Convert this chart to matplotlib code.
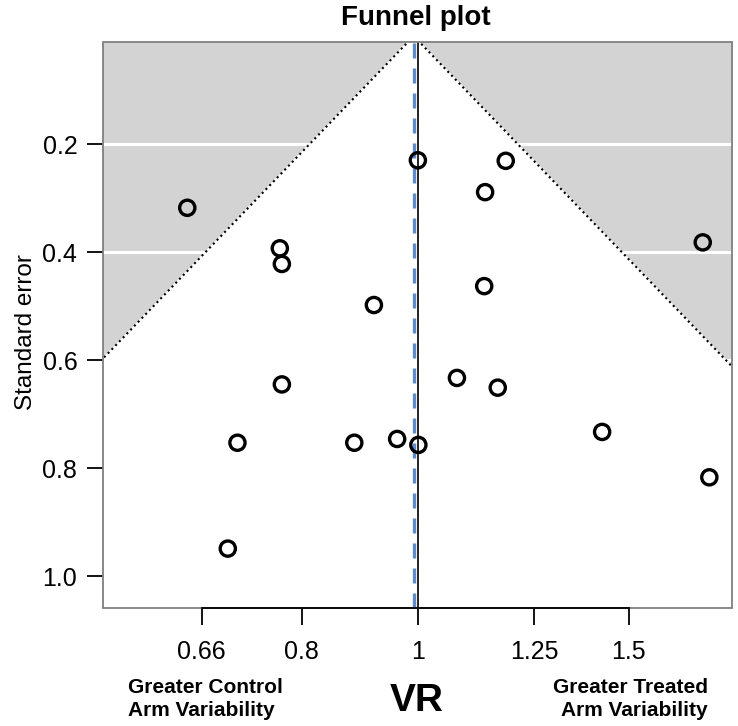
import numpy as np
import matplotlib
matplotlib.use("Agg")
import matplotlib.pyplot as plt
from matplotlib.patches import Rectangle
from matplotlib.ticker import FixedLocator, FixedFormatter, NullLocator

plt.rcParams['font.family'] = ['Liberation Sans', 'DejaVu Sans']

# study variance ratios (VR) and their standard errors
vr = [0.642, 0.767, 0.770, 0.919, 1.000, 1.184, 1.138, 1.136, 1.729,
      0.770, 1.078, 1.166, 0.885, 0.961, 1.001, 0.707, 0.694, 1.425, 1.751]
se = [0.318, 0.393, 0.422, 0.498, 0.230, 0.231, 0.289, 0.463, 0.382,
      0.645, 0.633, 0.651, 0.753, 0.746, 0.757, 0.753, 0.949, 0.733, 0.817]

pooled_vr = 0.992
x_ticks = [0.66, 0.8, 1, 1.25, 1.5]
x_labels = ["0.66", "0.8", "1", "1.25", "1.5"]
y_ticks = [0.2, 0.4, 0.6, 0.8, 1.0]
y_labels = ["0.2", "0.4", "0.6", "0.8", "1.0"]

fig = plt.figure(figsize=(7.38, 7.26), dpi=100)
ax = fig.add_axes([103 / 738, 1 - 608 / 726, (732 - 103) / 738, (608 - 42) / 726])

ax.set_xscale('log')
ax.set_xlim(0.546, 1.829)
ax.set_ylim(1.059, 0.011)

# grey background, white grid lines, white funnel region
ax.set_facecolor('lightgray')
for t in y_ticks:
    ax.axhline(t, color='white', lw=2.2, zorder=1)

se_line = np.array([0.0, 1.2])
centre = np.log(pooled_vr)
lo = np.exp(centre - se_line)
hi = np.exp(centre + se_line)
ax.fill_betweenx(se_line, lo, hi, color='white', zorder=2)
ax.plot(lo, se_line, color='black', ls=(0, (1.0, 1.6)), lw=1.5, zorder=3)
ax.plot(hi, se_line, color='black', ls=(0, (1.0, 1.6)), lw=1.5, zorder=3)

# reference line at VR = 1 and pooled estimate
ax.axvline(1.0, color='#222222', lw=1.4, zorder=3)
ax.axvline(pooled_vr, color='#5f8bcc', lw=2.4, ls=(0, (4.5, 3.0)), zorder=3)

ax.scatter(vr, se, s=120, facecolors='none', edgecolors='black',
           linewidths=2.4, zorder=4)

# axes styling
for side in ['top', 'right', 'left']:
    ax.spines[side].set_visible(False)
ax.spines['bottom'].set_bounds(0.66, 1.5)
ax.spines['bottom'].set_color('black')
ax.spines['bottom'].set_linewidth(1.3)
ax.spines['bottom'].set_zorder(6)
ax.add_patch(Rectangle((0, 0), 1, 1, transform=ax.transAxes, fill=False,
                       edgecolor='#7f7f7f', lw=1.3, zorder=5, clip_on=False))

ax.xaxis.set_major_locator(FixedLocator(x_ticks))
ax.xaxis.set_major_formatter(FixedFormatter(x_labels))
ax.xaxis.set_minor_locator(NullLocator())
ax.set_yticks(y_ticks)
ax.set_yticklabels(y_labels)
ax.tick_params(axis='x', length=12, width=1.3, pad=11, labelsize=18)
ax.tick_params(axis='y', length=11.5, width=1.3, pad=7, labelsize=18)

fig.text(416 / 738, 1 - 18 / 726, "Funnel plot", ha='center', va='center',
         fontsize=20, fontweight='bold')
fig.text(26 / 738, 1 - 332 / 726, "Standard error", ha='center', va='center',
         rotation=90, fontsize=17.5)
fig.text(417 / 738, 1 - 701 / 726, "VR", ha='center', va='center',
         fontsize=28, fontweight='bold')
fig.text(128 / 738, 1 - 699 / 726, "Greater Control\nArm Variability",
         ha='left', va='center', fontsize=15, fontweight='bold', linespacing=1.25)
fig.text(708 / 738, 1 - 699 / 726, "Greater Treated\nArm Variability",
         ha='right', va='center', fontsize=15, fontweight='bold', linespacing=1.25,
         multialignment='right')

fig.savefig("out.png", dpi=100)
